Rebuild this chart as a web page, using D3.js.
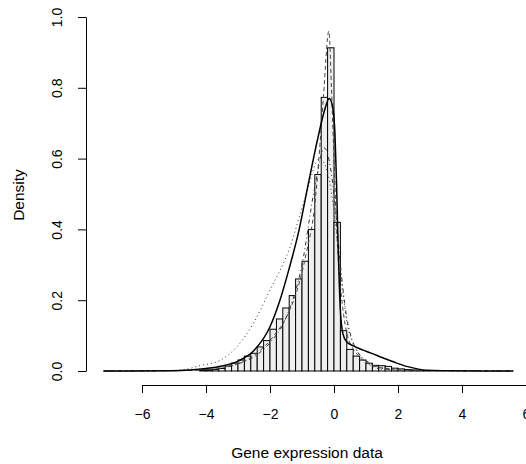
<!DOCTYPE html>
<html>
<head>
<meta charset="utf-8">
<script src="https://cdn.jsdelivr.net/npm/d3@7"></script>
<style>
  body { margin: 0; background: #fff; }
  text { font-family: "Liberation Sans", Arial, Helvetica, sans-serif; }
</style>
</head>
<body>
<div id="my_dataviz_density"></div>
<script>
// histogram: left edge of each 0.2-wide bin and its density
const binStart = [-4.2, -4.0, -3.8, -3.6, -3.4, -3.2, -3.0, -2.8, -2.6, -2.4, -2.2, -2.0,
  -1.8, -1.6, -1.4, -1.2, -1.0, -0.8, -0.6, -0.4, -0.2, 0.0, 0.2, 0.4, 0.6, 0.8,
  1.0, 1.2, 1.4, 1.6, 1.8, 2.0, 2.2, 2.4, 2.6, 2.8];
const binDensity = [0.002, 0.003, 0.004, 0.007, 0.014, 0.022, 0.031, 0.042, 0.050, 0.068, 0.086, 0.118,
  0.147, 0.178, 0.213, 0.260, 0.310, 0.400, 0.555, 0.773, 0.913, 0.420, 0.114, 0.061, 0.042, 0.031,
  0.022, 0.016, 0.015, 0.013, 0.008, 0.006, 0.004, 0.003, 0.002, 0.001];
const binWidth = 0.2;

// fitted curves
const solidX = [-7.2, -5.0, -4.5, -4.0, -3.5, -3.0, -2.5, -2.0, -1.7, -1.4, -1.1, -0.8, -0.5, -0.3, -0.15, -0.05, 0.03, 0.08, 0.13, 0.2, 0.28, 0.4, 0.6, 0.8, 1.0, 1.2, 1.5, 1.85, 2.27, 2.6, 2.9, 3.4, 5.6];
const solidY = [0, 0.001, 0.003, 0.007, 0.014, 0.028, 0.058, 0.125, 0.197, 0.29, 0.395, 0.53, 0.66, 0.735, 0.77, 0.75, 0.67, 0.53, 0.35, 0.17, 0.105, 0.082, 0.071, 0.063, 0.056, 0.049, 0.038, 0.026, 0.013, 0.006, 0.002, 0.0005, 0];

const dashX = [-7.2, -4.5, -3.5, -2.94, -2.42, -1.9, -1.43, -1.06, -0.85, -0.6, -0.49, -0.33, -0.16, -0.08, 0.0, 0.1, 0.2, 0.3, 0.4, 0.7, 1.0, 1.5, 2.0, 5.6];
const dashY = [0, 0.002, 0.01, 0.023, 0.05, 0.097, 0.163, 0.257, 0.34, 0.47, 0.58, 0.775, 0.96, 0.8, 0.6, 0.37, 0.24, 0.16, 0.107, 0.05, 0.025, 0.008, 0.002, 0];

const dotX = [-7.2, -5.5, -4.7, -4.19, -3.56, -3.04, -2.52, -2.0, -1.375, -0.9, -0.45, -0.2, 0.0, 0.2, 0.4, 0.7, 1.0, 1.5, 2.2, 5.6];
const dotY = [0, 0.0005, 0.004, 0.015, 0.03, 0.068, 0.135, 0.229, 0.35, 0.49, 0.6, 0.56, 0.45, 0.28, 0.14, 0.06, 0.025, 0.005, 0.001, 0];

const dotdashX = [-7.2, -5.0, -4.0, -3.0, -2.5, -2.0, -1.5, -1.0, -0.6, -0.3, 0.0, 0.2, 0.4, 0.6, 1.0, 1.5, 2.2, 5.6];
const dotdashY = [0, 0.001, 0.004, 0.02, 0.04, 0.08, 0.15, 0.3, 0.52, 0.63, 0.5, 0.3, 0.15, 0.08, 0.03, 0.01, 0.002, 0];

const xTicks = [-6, -4, -2, 0, 2, 4, 6];
const yTicks = [0.0, 0.2, 0.4, 0.6, 0.8, 1.0];

function generate_density_plot(){
  const width = 526, height = 464;

  const svg = d3.select("#my_dataviz_density")
    .append("svg")
      .attr("width", width)
      .attr("height", height);

  const x = d3.scaleLinear()
    .domain([-6, 6])
    .range([142, 526]);

  const y = d3.scaleLinear()
    .domain([0, 1])
    .range([371, 17]);

  // histogram bars
  svg.append("g")
    .selectAll("rect")
    .data(binStart.map((s, i) => ({start: s, value: binDensity[i]})))
    .join("rect")
      .attr("x", d => x(d.start))
      .attr("y", d => y(d.value))
      .attr("width", d => x(d.start + binWidth) - x(d.start))
      .attr("height", d => y(0) - y(d.value))
      .attr("fill", "#efefef")
      .attr("stroke", "#000")
      .attr("stroke-width", 1);

  // density curves
  const line = d3.line()
    .x(d => x(d[0]))
    .y(d => y(d[1]))
    .curve(d3.curveMonotoneX);

  const curves = [
    {xs: dotX, ys: dotY, dash: "1,3", w: 1, col: "#333"},
    {xs: dotdashX, ys: dotdashY, dash: "1,3,4,3", w: 1, col: "#333"},
    {xs: dashX, ys: dashY, dash: "4,3", w: 1, col: "#444"},
    {xs: solidX, ys: solidY, dash: null, w: 1.5, col: "#000"}
  ];

  svg.selectAll("path.curve")
    .data(curves)
    .join("path")
      .attr("class", "curve")
      .attr("d", c => line(c.xs.map((v, i) => [v, c.ys[i]])))
      .attr("fill", "none")
      .attr("stroke", c => c.col)
      .attr("stroke-width", c => c.w)
      .attr("stroke-dasharray", c => c.dash);

  // x axis
  const xAxis = svg.append("g")
    .attr("transform", "translate(0,385)")
    .call(d3.axisBottom(x).tickValues(xTicks).tickSize(8).tickSizeOuter(0)
      .tickFormat(d => d < 0 ? "\u2212" + Math.abs(d) : d));
  xAxis.select(".domain").attr("stroke", "#000");
  xAxis.selectAll("text").style("font-size", "14px").attr("y", 30).attr("dy", "0.32em").attr("fill", "#000");

  // y axis
  const yAxis = svg.append("g")
    .attr("transform", "translate(86,0)")
    .call(d3.axisLeft(y).tickValues(yTicks).tickSize(8).tickSizeOuter(0)
      .tickFormat(d3.format(".1f")));
  yAxis.selectAll("text")
    .style("font-size", "14px")
    .attr("fill", "#000")
    .attr("text-anchor", "middle")
    .attr("x", 0)
    .attr("dy", 0)
    .attr("transform", "translate(-28,0) rotate(-90)")
    .attr("dominant-baseline", "middle");

  // axis titles
  svg.append("text")
    .attr("x", 307)
    .attr("y", 458)
    .style("text-anchor", "middle")
    .style("font-size", "15.5px")
    .text("Gene expression data");

  svg.append("text")
    .attr("transform", "translate(24,195) rotate(-90)")
    .style("text-anchor", "middle")
    .style("font-size", "15.5px")
    .text("Density");
}

generate_density_plot();
</script>
</body>
</html>
